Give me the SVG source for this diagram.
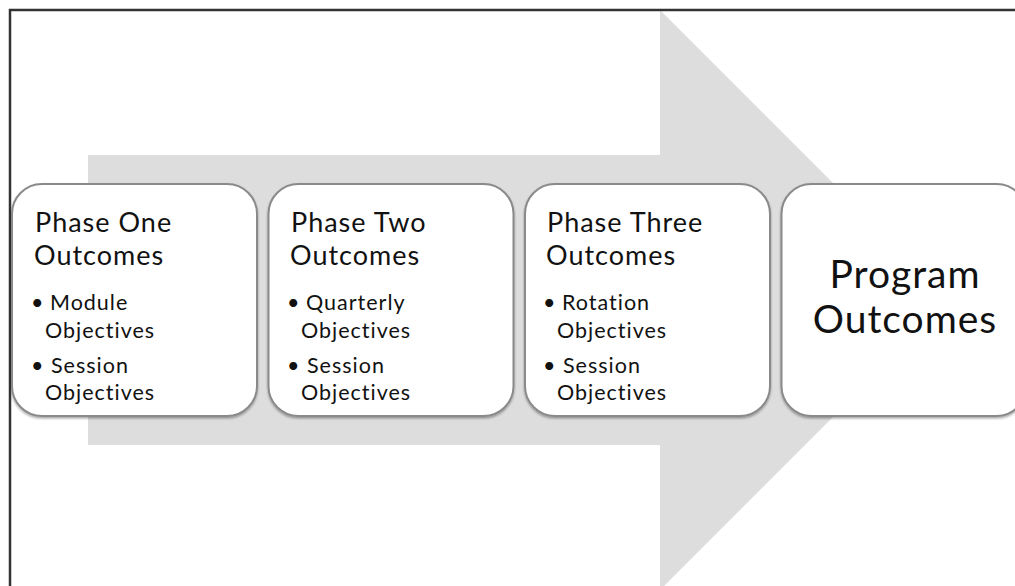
<svg xmlns="http://www.w3.org/2000/svg" width="1015" height="586" viewBox="0 0 1015 586">
<defs>
<style>
.box{fill:#ffffff;stroke:#8a8a8a;stroke-width:2;filter:url(#sh)}
.t{font-family:Lato,"Open Sans",sans-serif;fill:#111111}
.h{font-size:27px;letter-spacing:1px}
.b{font-size:21.5px;letter-spacing:1px}
.p{font-size:39px;letter-spacing:1px}
</style>
<filter id="sh" x="-10%" y="-10%" width="120%" height="120%">
<feDropShadow dx="0" dy="1.5" stdDeviation="1.2" flood-color="#000" flood-opacity="0.35"/>
</filter>
</defs>
<rect width="1015" height="586" fill="#ffffff"/>
<polygon id="arrow" points="88,155 660,155 660,10 950,300 660,590 660,445 88,445" fill="#dddddd"/>
<path d="M10,600 L10,10 L1030,10" fill="none" stroke="#333333" stroke-width="2.5"/>
<g id="connectors"></g>
<g id="phase1">
<rect class="box" x="12" y="184" width="245" height="232" rx="30"/>
<text class="t h" x="35" y="232">Phase One</text>
<text class="t h" x="34" y="265">Outcomes</text>
<text class="t b" x="31" y="310">•</text>
<text class="t b" x="50" y="310">Module</text>
<text class="t b" x="45" y="338">Objectives</text>
<text class="t b" x="31" y="373">•</text>
<text class="t b" x="51" y="373">Session</text>
<text class="t b" x="45" y="400">Objectives</text>
</g>
<g id="phase2">
<rect class="box" x="268.5" y="184" width="245" height="232" rx="30"/>
<text class="t h" x="291" y="232">Phase Two</text>
<text class="t h" x="290" y="265">Outcomes</text>
<text class="t b" x="287" y="310">•</text>
<text class="t b" x="306" y="310">Quarterly</text>
<text class="t b" x="301" y="338">Objectives</text>
<text class="t b" x="287" y="373">•</text>
<text class="t b" x="307" y="373">Session</text>
<text class="t b" x="301" y="400">Objectives</text>
</g>
<g id="phase3">
<rect class="box" x="525" y="184" width="245" height="232" rx="30"/>
<text class="t h" x="547" y="232">Phase Three</text>
<text class="t h" x="546" y="265">Outcomes</text>
<text class="t b" x="543" y="310">•</text>
<text class="t b" x="562" y="310">Rotation</text>
<text class="t b" x="557" y="338">Objectives</text>
<text class="t b" x="543" y="373">•</text>
<text class="t b" x="563" y="373">Session</text>
<text class="t b" x="557" y="400">Objectives</text>
</g>
<g id="program">
<rect class="box" x="781.5" y="184" width="245" height="232" rx="30"/>
<text class="t p" x="905" y="288" text-anchor="middle">Program</text>
<text class="t p" x="905" y="333" text-anchor="middle">Outcomes</text>
</g>
</svg>
